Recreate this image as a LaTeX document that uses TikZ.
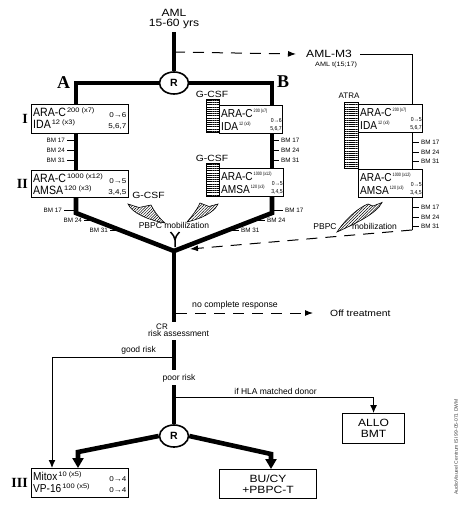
\documentclass[tikz,border=0pt]{standalone}
\usepackage{fontspec}
\setmainfont{Liberation Sans}
\newfontfamily\lab[FakeStretch=1.15]{Liberation Sans}
\newfontfamily\cond[FakeStretch=0.88]{Liberation Sans}
\newfontfamily\vcond[FakeStretch=0.78]{Liberation Sans}
\newfontfamily\ser{Liberation Serif}
\usetikzlibrary{arrows.meta,shapes.geometric,patterns.meta}
\def\spfont{\fontsize{6.5}{6.5}\lab}
\def\rtfont{\fontsize{7}{7}\lab}
\def\drfont{\fontsize{12}{12}\cond}
\def\rowa{12.5pt}
\def\rowb{24.5pt}
\def\rone{13.5pt}
\def\rsh{2.5pt}
\newcommand\spx[1]{\kern1pt\raisebox{4.3pt}{\spfont #1}}
% #1 name, #2 NW corner, #3 width, #4 height, #5 line1, #6 line2, #7 right1, #8 right2
\newcommand\tbox[8]{%
  \node[tb,minimum width=#3,minimum height=#4,anchor=north west] (#1) at #2 {};
  \node[dr,anchor=base west] (#1-a) at ([xshift=2pt,yshift=-\rowa]#1.north west) {#5};
  \node[dr,anchor=base west] (#1-b) at ([xshift=2pt,yshift=-\rowb]#1.north west) {#6};
  \node[rt,anchor=base east] (#1-c) at ([xshift=-\rsh,yshift=-\rone]#1.north east) {#7};
  \node[rt,anchor=base east] (#1-d) at ([xshift=-\rsh,yshift=-\rowb]#1.north east) {#8};
}
\begin{document}
\begin{tikzpicture}[x=1pt,y=-1pt,line cap=butt,
  thk/.style={line width=4.6pt},
  thn/.style={line width=1pt},
  tb/.style={draw,line width=1.1pt,inner sep=0pt,rectangle},
  dr/.style={font=\drfont,inner sep=0pt},
  rt/.style={font=\rtfont,inner sep=0pt},
  lbl/.style={inner sep=0pt,font=\fontsize{10.5}{10.5}\lab},
  sm/.style={inner sep=0pt,font=\fontsize{8.5}{8.5}\selectfont},
  bm/.style={inner sep=0pt,font=\fontsize{6.3}{6.3}\selectfont},
  roman/.style={inner sep=0pt,font=\fontsize{14}{14}\ser\bfseries},
  rnd/.style={draw,ellipse,line width=1.6pt,minimum width=29pt,minimum height=22pt,inner sep=0pt,font=\fontsize{10.5}{10.5}\selectfont\bfseries,fill=white},
  dsh/.style={line width=1pt,dash pattern=on 11pt off 8pt},
  hatch/.style={draw,line width=0.8pt,inner sep=0pt,pattern={Lines[angle=0,distance=2.2pt,line width=0.7pt]}},
  swoosh/.style={draw,line width=0.6pt,pattern={Lines[angle=45,distance=2pt,line width=0.5pt]}},
  arr/.style={-{Latex[length=8pt,width=6pt]}},
  bigarr/.style={-{Triangle[length=10pt,width=11pt]}},
]
\useasboundingbox (0,0) rectangle (465,525);

% top
\node[lbl,anchor=north,align=center] (aml) at (174,9) {AML\\15-60 yrs};
\node[rnd] (r1) at (174,83) {R};
\draw[thk] ([yshift=-3pt]aml.south) -- (r1.north);
\coordinate (d1) at (174,52);
\node[lbl,anchor=west] (m3) at (306,54) {AML-M3};
\node[inner sep=0pt,font=\fontsize{6.3}{6.3}\lab,anchor=base west] (t1517) at (315,66) {AML t(15;17)};
\draw[dsh,arr] (d1) -- ([xshift=-10pt]m3.west);

% labels A B I II III
\node[inner sep=0pt,font=\fontsize{18}{18}\ser\bfseries,anchor=base] (lA) at (63.5,88) {A};
\node[inner sep=0pt,font=\fontsize{18}{18}\ser\bfseries,anchor=base] (lB) at (283,87) {B};
\node[roman,anchor=base east] (lI) at (28,123) {I};
\node[roman,anchor=base east] (lII) at (28,188) {II};
\node[roman,anchor=base east] (lIII) at (28,487) {III};

% hatches
\node[hatch,anchor=north west,minimum width=13pt,minimum height=33pt] (h1) at (206,99) {};
\node[hatch,anchor=north west,minimum width=13pt,minimum height=33pt] (h2) at (206,163) {};
\node[hatch,anchor=north west,minimum width=14pt,minimum height=66pt] (h3) at (344,102) {};
\node[inner sep=0pt,font=\fontsize{9}{9}\lab,anchor=base] (g1) at (212,97.5) {G-CSF};
\node[inner sep=0pt,font=\fontsize{9}{9}\lab,anchor=base] (g2) at (212,161) {G-CSF};
\node[inner sep=0pt,font=\fontsize{8}{8}\selectfont,anchor=base] (atra) at (349,98) {ATRA};

% boxes
\tbox{ia}{(31,104)}{97}{29}{ARA-C\spx{200 (x7)}}{IDA\spx{12 (x3)}}{0→6}{5,6,7}
\tbox{iia}{(31,170)}{97}{27}{ARA-C\spx{1000 (x12)}}{AMSA\spx{120 (x3)}}{0→5}{3,4,5}
\tbox{iii}{(31,468)}{97}{29}{{\fontsize{11.5}{12}\selectfont Mitox}\spx{10 (x5)}}{{\fontsize{11.5}{12}\selectfont VP-16}\spx{100 (x5)}}{0→4}{0→4}
\def\spfont{\fontsize{4.8}{4.8}\vcond}
\def\rtfont{\fontsize{5.8}{5.8}\cond}
\def\drfont{\fontsize{11.5}{11.5}\cond}
\def\rowa{12pt}
\def\rowb{25pt}
\def\rone{17.3pt}
\def\rsh{1.2pt}
\tbox{ib}{(219,105)}{63}{28}{ARA-C\spx{200 (x7)}}{IDA\spx{12 (x3)}}{0→6}{5,6,7}
\tbox{iib}{(219,168)}{64}{28}{ARA-C\spx{1000 (x12)}}{AMSA\spx{120 (x3)}}{0→5}{3,4,5}
\tbox{ic}{(358,104)}{64}{28}{ARA-C\spx{200 (x7)}}{IDA\spx{12 (x3)}}{0→5}{5,6,7}
\tbox{iic}{(358,169)}{64}{28}{ARA-C\spx{1000 (x12)}}{AMSA\spx{120 (x3)}}{0→5}{3,4,5}

% branches
\coordinate (a1) at (76,83);
\coordinate (b1) at (272,83);
\coordinate (atx) at (412,0);
\draw[thk] (r1.west) -- (a1) -- (a1 |- ia.north);
\draw[thk] (r1.east) -- (b1) -- (b1 |- ib.north);
\draw[thn] ([xshift=8pt]m3.east) -| (atx |- ic.north);
\draw[thk] (a1 |- ia.south) -- (a1 |- iia.north);
\draw[thk] (b1 |- ib.south) -- (b1 |- iib.north);
\draw[thn] (atx |- ic.south) -- (atx |- iic.north);

% BM ticks between I and II
\foreach \yy/\t in {140/17,150/24,160/31}{
  \draw[thn] (67,\yy) -- (76,\yy);
  \node[bm,anchor=east] (bmA\t) at (65,\yy) {BM \t};
  \draw[thn] (272,\yy) -- (279,\yy);
  \node[bm,anchor=west] (bmB\t) at (281,\yy) {BM \t};
}
\foreach \yy/\t in {142/17,152/24,161/31}{
  \draw[thn] (412,\yy) -- (419,\yy);
  \node[bm,anchor=west] (bmC\t) at (421,\yy) {BM \t};
}
\foreach \yy/\t in {207/17,217/24,226/31}{
  \draw[thn] (412,\yy) -- (419,\yy);
  \node[bm,anchor=west] (bmD\t) at (421,\yy) {BM \t};
}

% junction
\coordinate (la) at (76,213);
\coordinate (lb) at (272,213);
\coordinate (j) at (174,251);
\draw[thk] (a1 |- iia.south) -- (la) -- (j) -- (lb) -- (b1 |- iib.south);
% lower BM ticks
\draw[thn] (64,210) -- (76,210);
\node[bm,anchor=east] (bmE17) at (62,210) {BM 17};
\draw[thn] (84,220) -- (94,220);
\node[bm,anchor=east] (bmE24) at (82,220) {BM 24};
\draw[thn] (110,230) -- (120,230);
\node[bm,anchor=east] (bmE31) at (108,230) {BM 31};
\draw[thn] (272,210) -- (283,210);
\node[bm,anchor=west] (bmF17) at (285,210) {BM 17};
\draw[thn] (255,220) -- (265,220);
\node[bm,anchor=west] (bmF24) at (267,220) {BM 24};
\draw[thn] (229,230) -- (239,230);
\node[bm,anchor=west] (bmF31) at (241,230) {BM 31};

% ATRA line to junction
\coordinate (e1) at (412,230);
\coordinate (jin) at (190,249);
\draw[thn] (atx |- iic.south) -- (e1);
\draw[dsh,arr] (e1) -- (jin);

% mobilization swooshes
\node[inner sep=0pt,font=\fontsize{9}{9}\lab,anchor=base] (g3) at (148.5,198) {G-CSF};
\filldraw[swoosh] (128,204) .. controls (132,213) and (148,220) .. (165,223) .. controls (159,218) and (154,211) .. (151,205) -- (139,207.5) -- cycle;
\filldraw[swoosh] (218,204) .. controls (214,213) and (200,219) .. (187,222) .. controls (192,216) and (197,210) .. (200,203) -- (209,206.5) -- cycle;
\filldraw[swoosh] (337,232) .. controls (347,217) and (360,207) .. (368,204) -- (373,206) -- (382,202.5) .. controls (377,213) and (357,223) .. (337,232) -- cycle;
\node[sm] (pbpc1) at (174,225) {PBPC mobilization};
\node[sm] (pbpc2) at (325,226.5) {PBPC};
\node[sm] (mob2) at (374.5,226.5) {mobilization};
\draw[line width=1.5pt] (170.5,232) .. controls (173,235) and (175,237) .. (175,240) -- (175,247);
\draw[line width=1.5pt] (179.5,232) .. controls (177,235) and (175,237) .. (175,240);

% CR and below
\node[sm,font=\fontsize{8}{8}\selectfont] (cr) at (162,326.8) {CR};
\node[sm] (risk) at (178.5,333.8) {risk assessment};
\node[sm] (poor) at (179,378) {poor risk};
\node[rnd] (r2) at (174,436) {R};
\draw[thk,shorten >=1.5pt] (j) -- (j |- cr.north);
\draw[thk,shorten <=3pt,shorten >=4pt] (j |- risk.south) -- (j |- poor.north);
\draw[thk,shorten <=3pt] (j |- poor.south) -- (r2.north);

% no complete response
\coordinate (c1) at (176,313);
\node[inner sep=0pt,font=\fontsize{9}{9}\lab,anchor=west] (off) at (330,313) {Off treatment};
\node[sm,font=\fontsize{8.7}{8.7}\selectfont,anchor=base west] (ncr) at (192,307) {no complete response};
\draw[dsh,arr] (c1) -- ([xshift=-17pt]off.west);

% final boxes
\node[tb,minimum width=97pt,minimum height=29pt,anchor=north west,align=center,font=\fontsize{10.5}{11.5}\lab] (bucy) at (219,469) {BU/CY\\+PBPC-T};
\node[tb,minimum width=62pt,minimum height=30pt,anchor=north west,align=center,font=\fontsize{10.5}{10.5}\lab] (allo) at (342,413) {ALLO\\BMT};

% good risk / HLA
\coordinate (c2) at (174,357);
\coordinate (c3) at (174,397);
\node[sm,anchor=base east] (good) at (156,352.5) {good risk};
\node[sm,anchor=base] (hla) at (275.5,394) {if HLA matched donor};
\draw[thn,-{Latex[length=8pt,width=7pt]}] (c2) -| ([xshift=21pt]iii.north west);
\draw[thn,-{Latex[length=8pt,width=7pt]}] (c3) -| (allo.north);

% randomisation arrows
\coordinate (p1) at (78,452);
\coordinate (p2) at (271,454);
\draw[thk,bigarr] (r2.west) -- (p1) -- (p1 |- iii.north);
\draw[thk,bigarr] (r2.east) -- (p2) -- (p2 |- bucy.north);

% side note
\node[rotate=90,inner sep=0pt,font=\fontsize{5}{5}\selectfont,text=black!75] (wm) at (456,447) {AudioVisueel Centrum ISI 99-05-071 DWM};
\end{tikzpicture}
\end{document}
